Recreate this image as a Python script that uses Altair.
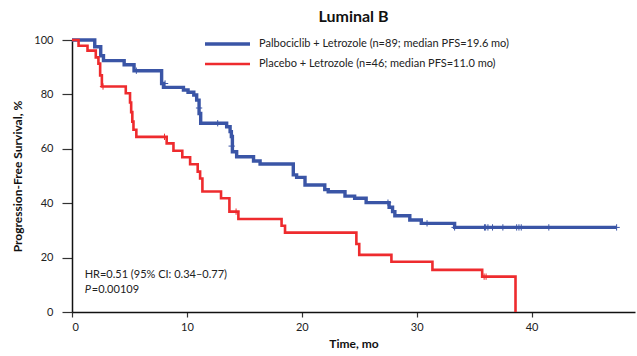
import altair as alt
import pandas as pd

# ---------------- data ----------------
groups = ["Palbociclib + Letrozole (n=89; median PFS=19.6 mo)",
          "Placebo + Letrozole (n=46; median PFS=11.0 mo)"]
colors = ["#3a55a6", "#ee2b2e"]

# Palbociclib + Letrozole: step times (mo) and survival (%) after each step
blue_t = [0, 1.98, 2.5, 2.74, 4.54, 5.4, 7.8, 7.96, 9.7, 10.1, 10.6, 10.85, 11.06,
          11.2, 13.46, 13.76, 13.87, 13.96, 14.33, 15.8, 16.37, 19.26, 19.55, 20.28,
          22.0, 22.3, 23.76, 24.6, 25.6, 27.6, 27.9, 28.1, 29.4, 30.4, 33.3, 47.4]
blue_s = [100, 97.5, 94.2, 92.4, 90.9, 88.7, 84.0, 82.6, 81.6, 80.8, 79.8, 77.9, 73.0,
          69.4, 68.1, 66.3, 64.5, 58.9, 57.1, 55.5, 54.4, 50.4, 49.5, 46.7,
          45.0, 44.2, 42.6, 41.8, 40.2, 38.5, 36.9, 35.4, 33.8, 32.6, 31.1, 31.1]
blue_cens_t = [5.6, 8.1, 11.06, 12.68, 13.9, 27.5, 30.9, 33.3, 35.9, 36.0, 36.2, 36.6,
               37.5, 38.7, 38.9, 39.1, 41.5, 47.4]
blue_cens_s = [88.7, 84.0, 75.0, 69.4, 61.0, 40.2, 32.6, 31.1, 31.1, 31.1, 31.1, 31.1,
               31.1, 31.1, 31.1, 31.1, 31.1, 31.1]

# Placebo + Letrozole
red_t = [0, 0.57, 1.35, 2.07, 2.3, 2.45, 2.6, 4.68, 5.05, 5.15, 5.25, 5.35, 5.6,
         8.24, 8.83, 9.6, 10.28, 10.94, 11.15, 11.35, 12.97, 13.7, 14.48, 18.24,
         18.54, 24.75, 25.0, 27.8, 31.37, 35.7, 38.6]
red_s = [100, 97.9, 96.1, 93.6, 91.3, 87.0, 82.9, 80.4, 77.0, 73.5, 70.0, 67.0, 64.4,
         62.0, 59.3, 56.9, 54.3, 51.6, 49.1, 44.3, 41.8, 36.9, 34.2, 31.7,
         29.2, 25.0, 21.0, 18.5, 15.5, 13.0, 0]
red_cens_t = [2.7, 8.05, 14.28, 35.87, 36.04]
red_cens_s = [82.9, 64.4, 36.9, 13.0, 13.0]

x_ticks = [0, 10, 20, 30, 40]
y_ticks = [0, 20, 40, 60, 80, 100]

hr_text = "HR=0.51 (95% CI: 0.34\u20130.77)"
p_label = "P"
p_value = "=0.00109"

# ---------------- tables ----------------
lines = pd.concat([
    pd.DataFrame({"t": blue_t, "s": blue_s, "group": groups[0]}),
    pd.DataFrame({"t": red_t, "s": red_s, "group": groups[1]}),
])
cens = pd.concat([
    pd.DataFrame({"t": blue_cens_t, "s": blue_cens_s, "group": groups[0]}),
    pd.DataFrame({"t": red_cens_t, "s": red_cens_s, "group": groups[1]}),
])
notes_norm = pd.DataFrame({"t": [1.1, 1.72], "s": [13.6, 8.2], "txt": [hr_text, p_value]})
notes_ital = pd.DataFrame({"t": [1.1], "s": [8.2], "txt": [p_label]})

FONT = "Lato"
xs = alt.Scale(domain=[0, 49], nice=False, zero=False)
ys = alt.Scale(domain=[0, 100], nice=False)

x_enc = alt.X("t:Q", scale=xs,
              axis=alt.Axis(values=x_ticks, title="Time, mo", grid=False,
                            tickSize=5, labelPadding=4, titlePadding=6))
y_enc = alt.Y("s:Q", scale=ys,
              axis=alt.Axis(values=y_ticks, title="Progression-Free Survival, %",
                            grid=False, tickSize=10, labelPadding=9, titlePadding=9))

line_layer = alt.Chart(lines).mark_line(interpolate="step-after").encode(
    x=x_enc, y=y_enc,
    color=alt.Color("group:N", scale=alt.Scale(domain=groups, range=colors),
                    legend=alt.Legend(title=None, orient="none", legendX=131, legendY=-2,
                                      symbolType="stroke", symbolSize=2025,
                                      symbolStrokeWidth=3.5, labelFont=FONT,
                                      labelFontSize=11, labelLimit=500, labelOffset=7,
                                      clipHeight=12, rowPadding=8, labelColor="#222")),
    strokeWidth=alt.StrokeWidth("group:N", scale=alt.Scale(domain=groups, range=[3.4, 2.6]),
                                legend=None),
    detail="group:N",
)

cens_layer = alt.Chart(cens).mark_point(
    shape="M-1,0L1,0M0,-1L0,1", filled=False, size=40, strokeWidth=1, opacity=1
).encode(
    x="t:Q", y="s:Q",
    stroke=alt.Stroke("group:N", scale=alt.Scale(domain=groups, range=colors), legend=None),
)

note_norm_layer = alt.Chart(notes_norm).mark_text(
    align="left", baseline="middle", font=FONT, fontSize=11, color="#222"
).encode(x="t:Q", y="s:Q", text="txt:N")

note_ital_layer = alt.Chart(notes_ital).mark_text(
    align="left", baseline="middle", font=FONT, fontSize=11, fontStyle="italic", color="#222"
).encode(x="t:Q", y="s:Q", text="txt:N")

chart = alt.layer(line_layer, cens_layer, note_norm_layer, note_ital_layer).properties(
    width=563, height=272,
    title=alt.TitleParams("Luminal B", font=FONT, fontSize=16, fontWeight="bold",
                          anchor="middle", offset=8, color="#111"),
    padding={"left": 72, "top": 40, "right": 2, "bottom": 44},
    autosize=alt.AutoSizeParams(type="none"),
).configure_view(stroke=None).configure_axis(
    domainColor="#111", domainWidth=1.5, tickColor="#333", tickWidth=1.2,
    labelFont=FONT, labelFontSize=11, labelColor="#222",
    titleFont=FONT, titleFontSize=12, titleFontWeight="bold", titleColor="#111",
)

chart.save("out.html", embed_options={"renderer": "svg", "actions": False})
